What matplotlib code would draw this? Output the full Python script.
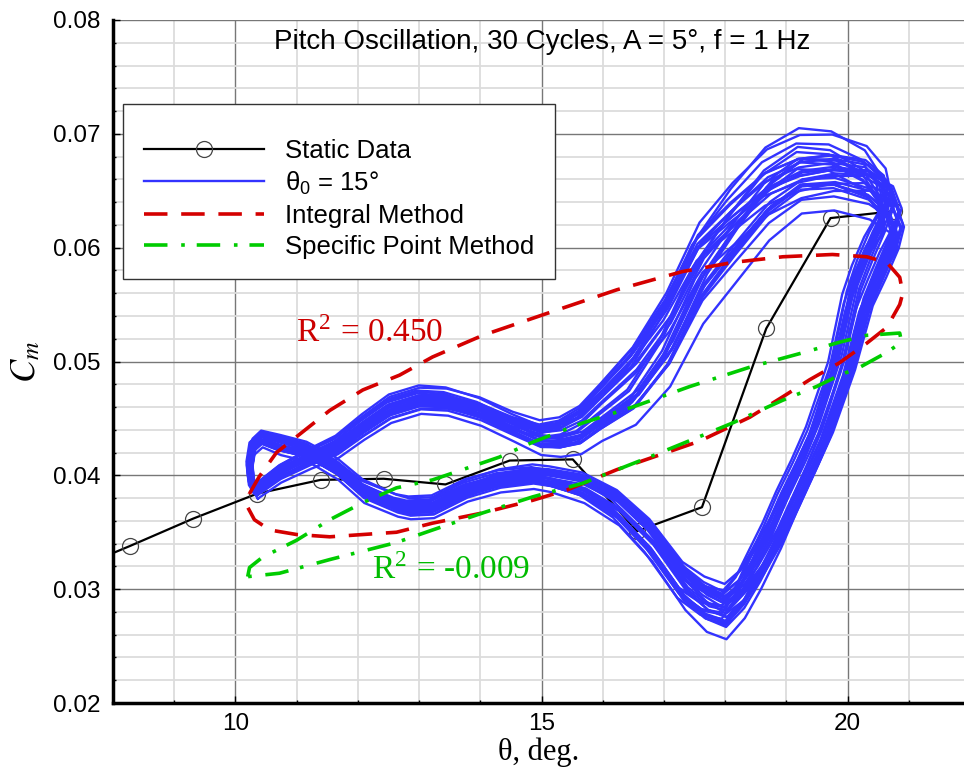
import matplotlib.pyplot as plt
import numpy as np
from matplotlib.ticker import MultipleLocator, FormatStrFormatter

plt.rcParams['font.family'] = ['Liberation Sans', 'DejaVu Sans']
plt.rcParams['mathtext.fontset'] = 'stix'

# static data (theta, Cm)
static_theta = [7.3, 8.28, 9.31, 10.36, 11.39, 12.42, 13.43, 14.48, 15.51,
                16.56, 17.62, 18.67, 19.72, 20.75]
static_cm = [0.0316, 0.0338, 0.0362, 0.0384, 0.0396, 0.0397, 0.0392, 0.0413,
             0.0414, 0.0351, 0.0372, 0.0529, 0.0626, 0.0632]

# mean dynamic loop (theta0 = 15 deg), read along the band centre
loop_theta = [10.34, 10.72, 11.21, 11.65, 12.08, 12.52, 13.01, 13.45, 13.99,
              14.53, 14.97, 15.29, 15.62, 15.95, 16.49, 17.04, 17.58, 18.12,
              18.68, 19.22, 19.75, 20.31, 20.62, 20.72, 20.55, 20.35, 20.16,
              19.90, 19.72, 19.54, 19.30, 19.05, 18.81, 18.51, 18.27, 17.99,
              17.66, 17.30, 16.76, 16.23, 15.67, 15.13, 14.85, 14.31, 13.77,
              13.22, 12.84, 12.63, 12.08, 11.65, 11.16, 10.72, 10.42, 10.28,
              10.23, 10.26]
loop_cm = [0.0387, 0.0402, 0.0415, 0.0425, 0.0442, 0.0458, 0.0466, 0.0465,
           0.0457, 0.0444, 0.0435, 0.0436, 0.0443, 0.0459, 0.0484, 0.0525,
           0.0583, 0.0617, 0.0649, 0.0666, 0.0668, 0.0660, 0.0645, 0.0625,
           0.0605, 0.0580, 0.0554, 0.0495, 0.0466, 0.0437, 0.0407, 0.0378,
           0.0349, 0.0319, 0.0298, 0.0283, 0.0290, 0.0306, 0.0346, 0.0374,
           0.0391, 0.0398, 0.0400, 0.0396, 0.0387, 0.0372, 0.0371, 0.0374,
           0.0387, 0.0407, 0.0422, 0.0428, 0.0433, 0.0426, 0.0409, 0.0394]
# half width of the band at each loop point
loop_dcm = [0.0005, 0.0006, 0.0007, 0.0008, 0.0009, 0.0010, 0.0010, 0.0010,
            0.0010, 0.0010, 0.0011, 0.0012, 0.0014, 0.0016, 0.0022, 0.0028,
            0.0032, 0.0034, 0.0033, 0.0030, 0.0028, 0.0025, 0.0020, 0.0015,
            0.0010, 0.0010, 0.0010, 0.0008, 0.0008, 0.0008, 0.0008, 0.0009,
            0.0011, 0.0015, 0.0017, 0.0018, 0.0017, 0.0014, 0.0012, 0.0010,
            0.0009, 0.0008, 0.0008, 0.0008, 0.0008, 0.0008, 0.0008, 0.0008,
            0.0008, 0.0007, 0.0006, 0.0006, 0.0005, 0.0005, 0.0005, 0.0005]
loop_dtheta = [0.05, 0.05, 0.05, 0.05, 0.05, 0.05, 0.05, 0.05, 0.05, 0.05,
               0.05, 0.05, 0.06, 0.08, 0.10, 0.12, 0.12, 0.10, 0.08, 0.06,
               0.06, 0.10, 0.15, 0.20, 0.28, 0.28, 0.25, 0.22, 0.22, 0.22,
               0.22, 0.22, 0.20, 0.15, 0.10, 0.06, 0.08, 0.10, 0.10, 0.08,
               0.06, 0.05, 0.05, 0.05, 0.05, 0.05, 0.05, 0.05, 0.05, 0.05,
               0.05, 0.05, 0.05, 0.05, 0.05, 0.05]
# second scatter pattern, lets cycles cross each other
loop_twist = [0.0, 0.3, 0.6, 0.8, 1.0, 1.0, 1.0, 0.8, 0.5, 0.2, -0.2, -0.5,
              -0.8, -1.0, -1.0, -0.6, -0.2, 0.3, 0.7, 1.0, 0.8, 0.3, -0.3,
              -0.7, -1.0, -1.0, -0.8, -0.4, 0.0, 0.4, 0.8, 1.0, 1.0, 0.8,
              0.4, 0.0, -0.4, -0.8, -1.0, -1.0, -0.7, -0.3, 0.0, 0.4, 0.8,
              1.0, 1.0, 0.7, 0.3, -0.1, -0.5, -0.7, -0.6, -0.4, -0.2, 0.0]
# cycle-to-cycle scatter (30 cycles)
cycle_a = [0.9, -0.7, 0.3, -0.2, 0.6, -0.9, 0.1, 0.5, -0.4, 0.8, -0.5, 0.2,
           -0.8, 0.4, 0.0, -0.3, 0.7, -0.6, 0.3, -0.1, 1.2, -1.5, 0.55, -0.45,
           0.15, -0.25, 0.65, -0.75, 0.35, 0.05]
cycle_b = [-0.3, 0.5, 0.8, -0.6, 0.2, 0.4, -0.9, 0.1, 0.7, -0.2, -0.8, 0.6,
           0.3, -0.5, 0.9, -0.1, -0.4, 0.2, -0.7, 1.0, 0.0, 0.5, -0.3, 0.8,
           -0.6, 0.4, -1.0, 0.1, 0.6, -0.4]
cycle_c = [0.4, 0.3, -0.5, 0.6, -0.3, 0.1, 0.5, -0.6, 0.2, -0.4, 0.6, -0.2,
           0.3, -0.5, 0.4, 0.6, -0.3, 0.2, -0.6, 0.5, -0.1, 0.3, -0.4, 0.1,
           0.6, -0.5, 0.2, 0.4, -0.3, -0.6]

# integral method fit
integral_theta = [10.23, 10.39, 10.67, 11.00, 11.54, 12.08, 12.68, 13.22, 14.04,
                  15.13, 16.23, 17.30, 18.12, 18.94, 19.75, 20.31, 20.64, 20.85,
                  20.90, 20.85, 20.64, 20.31, 19.87, 19.38, 18.94, 18.40, 17.58,
                  17.04, 16.23, 15.41, 14.85, 14.04, 13.22, 12.63, 12.08, 11.54,
                  11.00, 10.56, 10.31, 10.20, 10.23]
integral_cm = [0.0384, 0.0399, 0.0420, 0.0434, 0.0457, 0.0475, 0.0488, 0.0504,
               0.0523, 0.0543, 0.0563, 0.0579, 0.0587, 0.0592, 0.0594, 0.0592,
               0.0587, 0.0574, 0.0560, 0.0550, 0.0530, 0.0516, 0.0499, 0.0484,
               0.0469, 0.0451, 0.0430, 0.0420, 0.0405, 0.0387, 0.0378, 0.0367,
               0.0358, 0.0350, 0.0348, 0.0346, 0.0348, 0.0352, 0.0361, 0.0372,
               0.0384]

# specific point method fit
specific_theta = [10.20, 10.23, 10.44, 11.00, 11.54, 12.08, 12.63, 13.22, 14.31,
                  14.85, 15.67, 16.49, 17.42, 18.40, 19.22, 19.87, 20.31, 20.85,
                  20.88, 20.64, 20.20, 19.87, 19.49, 18.94, 18.12, 17.58, 16.76,
                  15.67, 14.85, 14.04, 13.22, 12.63, 11.54, 10.72, 10.20]
specific_cm = [0.0311, 0.0319, 0.0328, 0.0343, 0.0361, 0.0376, 0.0389, 0.0396,
               0.0416, 0.0429, 0.0446, 0.0460, 0.0478, 0.0495, 0.0507, 0.0517,
               0.0523, 0.0525, 0.0517, 0.0508, 0.0495, 0.0488, 0.0478, 0.0466,
               0.0446, 0.0434, 0.0416, 0.0393, 0.0381, 0.0367, 0.0352, 0.0341,
               0.0326, 0.0314, 0.0311]


def main():
    fig = plt.figure(figsize=(9.64, 7.79), dpi=100)
    ax = fig.add_axes([113 / 964, 1 - 703 / 779, 1 - 113 / 964, 683 / 779])

    # grid
    ax.set_xlim(8, 21.9)
    ax.set_ylim(0.02, 0.08)
    ax.xaxis.set_major_locator(MultipleLocator(5))
    ax.xaxis.set_minor_locator(MultipleLocator(1))
    ax.yaxis.set_major_locator(MultipleLocator(0.01))
    ax.yaxis.set_minor_locator(MultipleLocator(0.002))
    ax.yaxis.set_major_formatter(FormatStrFormatter('%.2f'))
    ax.grid(which='minor', color='#dcdcdc', lw=1.3)
    ax.grid(which='major', color='#777777', lw=1.0)
    ax.set_axisbelow(True)
    ax.tick_params(which='both', direction='in', labelsize=17.5, width=1)
    ax.tick_params(which='major', length=5, pad=9)
    ax.tick_params(axis='x', which='major', pad=7)
    ax.tick_params(which='minor', length=2.5)
    for side in ['top', 'right']:
        ax.spines[side].set_visible(False)
    for side in ['left', 'bottom']:
        ax.spines[side].set_linewidth(2.5)

    # static data
    ax.plot(static_theta, static_cm, color='black', lw=1.6, marker='o',
            ms=11.5, mfc='none', mec='#444444', mew=0.9, zorder=2,
            label='Static Data')

    # dynamic cycles
    th = np.array(loop_theta + loop_theta[:1])
    cm = np.array(loop_cm + loop_cm[:1])
    dth = np.array(loop_dtheta + loop_dtheta[:1])
    dcm = np.array(loop_dcm + loop_dcm[:1])
    tw = np.array(loop_twist + loop_twist[:1])
    for k in range(len(cycle_a)):
        ax.plot(th + cycle_b[k] * dth,
                cm + (cycle_a[k] + cycle_c[k] * tw) * dcm,
                color='#3333ff', lw=1.7, zorder=3,
                label=r'$\mathregular{θ_0}$ = 15°' if k == 0 else None)

    # model fits
    ax.plot(integral_theta, integral_cm, color='#d40000', lw=2.6,
            dashes=(6.5, 3.8), zorder=4, label='Integral Method')
    ax.plot(specific_theta, specific_cm, color='#00cc00', lw=2.6,
            dashes=(6.5, 3.8, 1.0, 3.3), zorder=4,
            label='Specific Point Method')

    ax.text(12.19, 0.0525, r'R$^{\mathregular{2}}$ = 0.450', color='#cc0000',
            family='Liberation Serif', fontsize=24, ha='center', va='center')
    ax.text(13.53, 0.0317, r'R$^{\mathregular{2}}$ = -0.009', color='#00bb00',
            family='Liberation Serif', fontsize=24, ha='center', va='center')

    ax.text(0.504, 0.968, 'Pitch Oscillation, 30 Cycles, A = 5°, f = 1 Hz',
            transform=ax.transAxes, ha='center', va='center', fontsize=20)

    ax.set_xlabel('θ, deg.', family='Liberation Serif', fontsize=22, labelpad=2)
    ax.set_ylabel(r'$C_m$', fontsize=25, labelpad=8)

    leg = ax.legend(loc='upper left', bbox_to_anchor=(0.0118, 0.877),
                    borderaxespad=0, fontsize=18.5, handlelength=4.67,
                    handletextpad=0.85, labelspacing=0.27, borderpad=0.8,
                    numpoints=1, fancybox=False, framealpha=1,
                    edgecolor='#333333', title=' ', title_fontsize=6)
    leg.get_frame().set_linewidth(1.0)
    leg.set_zorder(10)

    fig.savefig('out.png', dpi=100)


if __name__ == '__main__':
    main()
